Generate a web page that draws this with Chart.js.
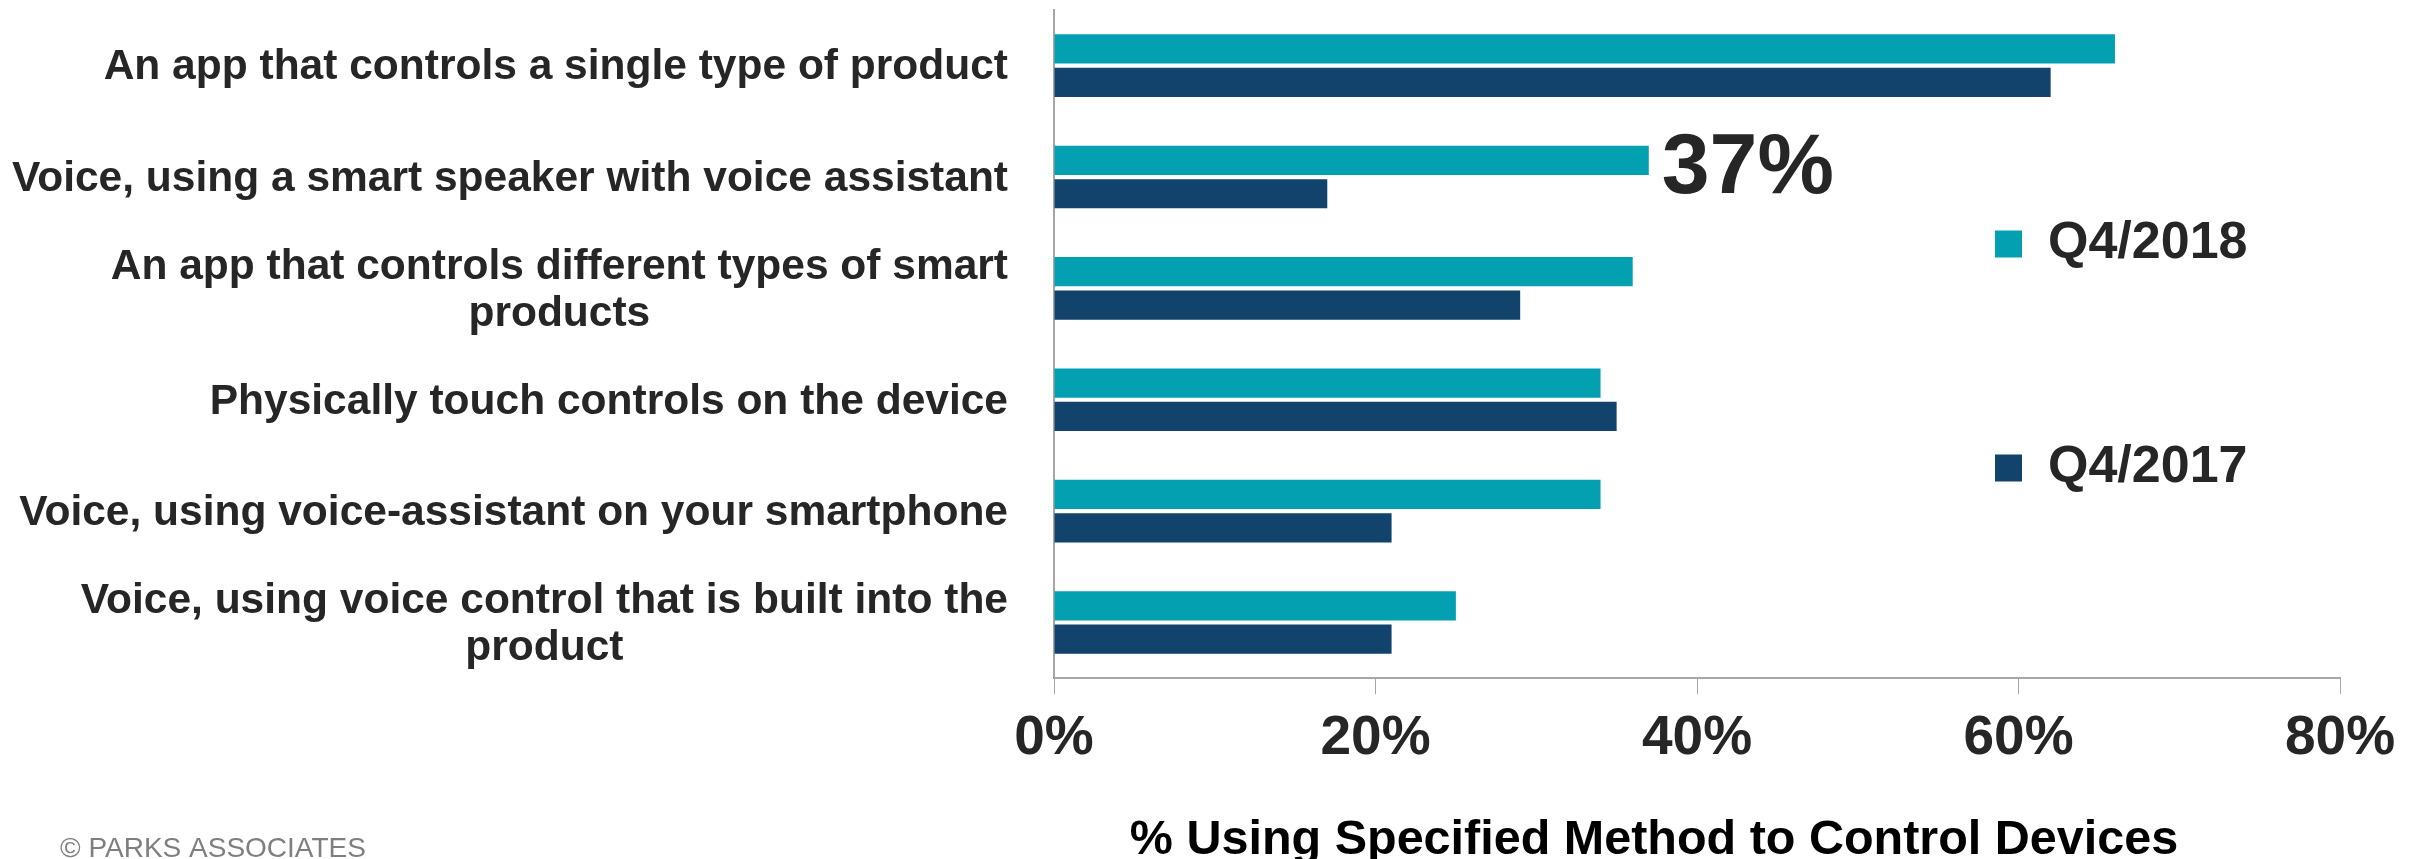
<!DOCTYPE html>
<html>
<head>
<meta charset="utf-8">
<script src="https://cdn.jsdelivr.net/npm/chart.js@4/dist/chart.umd.min.js"></script>
<style>
    html, body { margin: 0; padding: 0; background: #fff; }
    canvas { display: block; }
</style>
</head>
<body>
<canvas id="chart" width="2423" height="859" style="width:2423px;height:859px"></canvas>
<script>
'use strict';

// способы управления умным домом
const categories = [
    'An app that controls a single type of product',
    'Voice, using a smart speaker with voice assistant',
    ['An app that controls different types of smart', 'products'],
    'Physically touch controls on the device',
    'Voice, using voice-assistant on your smartphone',
    ['Voice, using voice control that is built into the', 'product'],
];
const seriesNames = ['Q4/2018', 'Q4/2017'];
const q4_2018 = [66, 37, 36, 34, 34, 25];
const q4_2017 = [62, 17, 29, 35, 21, 21];
const xTicks = [0, 20, 40, 60, 80];
// какое значение подписываем крупно
const calloutIndex = 1;

const axisTitle = '% Using Specified Method to Control Devices';
const copyright = '\u00A9 PARKS ASSOCIATES';

const colorTeal = '#03A0B2';
const colorNavy = '#11436D';
const textColor = '#262626';
const axisColor = '#A6A6A6';
const fontFamily = '"Liberation Sans", Arial, sans-serif';

Chart.defaults.font.family = fontFamily;
Chart.defaults.color = textColor;

const legendPad = 172;

/** Подписи категорий, выноска, подпись оси и копирайт */
const extras = {
    id: 'extras',
    afterLayout(chart) {
        // легенда стоит внутри области графика, справа от столбцов
        const lg = chart.legend;
        lg.left = 1995 - legendPad;
        lg.top = 218 - legendPad;
        lg.bottom = chart.height;
    },
    afterDraw(chart) {
        const ctx = chart.ctx;
        const yScale = chart.scales.y;
        const area = chart.chartArea;
        ctx.save();

        // категории: блок прижат вправо, строки внутри по центру
        ctx.font = 'bold 42.5px ' + fontFamily;
        ctx.fillStyle = textColor;
        ctx.textAlign = 'center';
        ctx.textBaseline = 'middle';
        categories.forEach((label, i) => {
            const lines = Array.isArray(label) ? label : [label];
            const widest = Math.max(...lines.map((l) => ctx.measureText(l).width));
            const cx = area.left - 46 - widest / 2;
            const cy = yScale.getPixelForTick(i) + 2;
            lines.forEach((line, k) => {
                ctx.fillText(line, cx, cy + (k - (lines.length - 1) / 2) * 47);
            });
        });

        // выноска у столбца
        const bar = chart.getDatasetMeta(0).data[calloutIndex];
        ctx.font = 'bold 86px ' + fontFamily;
        ctx.textAlign = 'left';
        ctx.textBaseline = 'alphabetic';
        ctx.fillText(q4_2018[calloutIndex] + '%', bar.x + 13, bar.y + 33);

        // подпись оси X
        ctx.font = 'bold 48.5px ' + fontFamily;
        ctx.fillStyle = '#000';
        ctx.textAlign = 'center';
        ctx.fillText(axisTitle, 1654, 854);

        ctx.font = '28px ' + fontFamily;
        ctx.fillStyle = '#7F7F7F';
        ctx.textAlign = 'left';
        ctx.fillText(copyright, 60, 857);

        ctx.restore();
    },
};

const ctx = document.getElementById('chart').getContext('2d');
const cfg = {
    type: 'bar',
    data: {
        labels: categories,
        datasets: [
            {
                label: seriesNames[0],
                data: q4_2018,
                backgroundColor: colorTeal,
                borderWidth: 0,
            },
            {
                label: seriesNames[1],
                data: q4_2017,
                backgroundColor: colorNavy,
                borderWidth: 0,
            },
        ],
    },
    options: {
        indexAxis: 'y',
        responsive: false,
        animation: false,
        datasets: {
            bar: { categoryPercentage: 0.6, barPercentage: 0.875 },
        },
        layout: {
            padding: { left: 1054, right: 83, top: 10, bottom: 74.8 },
        },
        plugins: {
            tooltip: { enabled: false },
            legend: {
                position: 'chartArea',
                align: 'start',
                labels: {
                    boxWidth: 27,
                    boxHeight: 27,
                    padding: legendPad,
                    color: textColor,
                    font: { size: 52, weight: 'bold' },
                },
            },
        },
        scales: {
            x: {
                type: 'linear',
                min: xTicks[0],
                max: xTicks[xTicks.length - 1],
                afterBuildTicks(scale) {
                    scale.ticks = xTicks.map((v) => ({ value: v }));
                },
                ticks: {
                    padding: 12,
                    color: textColor,
                    font: { size: 55, weight: 'bold' },
                    callback: (v) => v + '%',
                },
                grid: {
                    drawOnChartArea: false,
                    drawTicks: true,
                    tickLength: 16,
                    color: axisColor,
                    lineWidth: 1,
                },
                border: { display: true, color: axisColor, width: 2 },
            },
            y: {
                ticks: { display: false },
                grid: { display: false, drawTicks: false },
                border: { display: true, color: axisColor, width: 2 },
            },
        },
    },
    plugins: [extras],
};
const chart = new Chart(ctx, cfg);
</script>
</body>
</html>
